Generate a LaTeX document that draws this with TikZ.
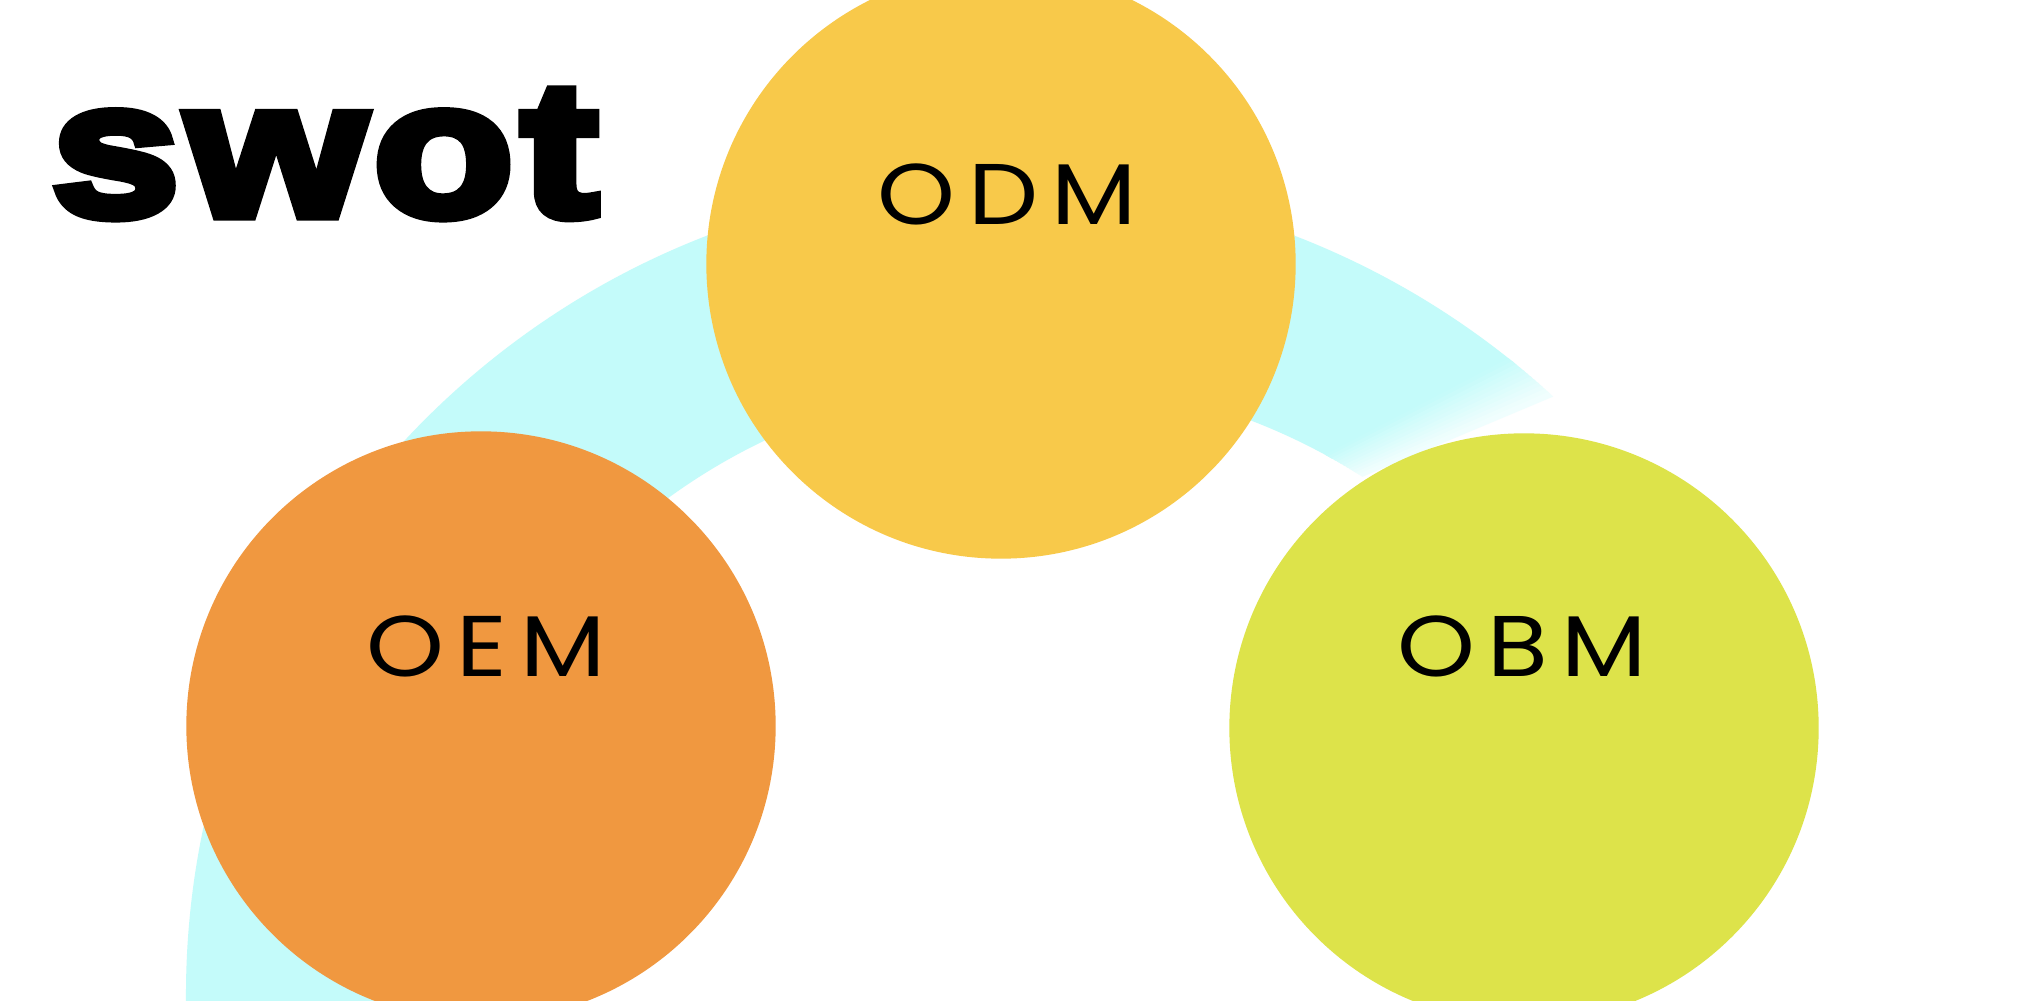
\documentclass[tikz,border=0pt]{standalone}
\usepackage{fontspec}
\usetikzlibrary{calc}
\newfontfamily\swotfont[FakeBold=6,FakeStretch=1.21,LetterSpace=4]{Liberation Sans Bold}
\newfontfamily\labfont[LetterSpace=15,FakeStretch=1.15]{Poppins}
\definecolor{bandcyan}{HTML}{C4FBFA}
\definecolor{odmyellow}{HTML}{F8C94A}
\definecolor{oemorange}{HTML}{F09840}
\definecolor{obmgreen}{HTML}{DDE34A}
\tikzset{
  disc/.style={circle, inner sep=0pt, minimum size=5.89cm},
  lab/.style={anchor=base, inner sep=0pt, text=black, font=\labfont\fontsize{24.5}{24.5}\selectfont},
  titletext/.style={anchor=base west, inner sep=0pt, text=black, font=\swotfont\fontsize{54}{54}\selectfont}
}
\begin{document}
\begin{tikzpicture}[x=0.01cm,y=-0.01cm]
\useasboundingbox (0,0) rectangle (2019,1001);
\fill[white] (0,0) rectangle (2019,1001);
\begin{scope}
\clip (0,0) rectangle (2019,1001);
\coordinate (co) at (1001,996);
\coordinate (ci) at (1031,996);
% cyan band
\fill[bandcyan] ($(co)+(176:815)$) arc[start angle=176,end angle=309.2,radius=815]
  -- ($(ci)+(299.2:616)$) arc[start angle=299.2,end angle=176,radius=616] -- cycle;
% fading end of the band
\foreach \i in {0,...,11}{
  \pgfmathsetmacro\oa{308.5+4*\i/12}
  \pgfmathsetmacro\ob{308.5+4*(\i+1)/12+0.15}
  \pgfmathsetmacro\ia{298.5+3.9*\i/12}
  \pgfmathsetmacro\ib{298.5+3.9*(\i+1)/12+0.15}
  \pgfmathtruncatemacro\pc{100-78*(\i+0.5)/12}
  \fill[bandcyan!\pc!white] ($(co)+(\oa:815)$) arc[start angle=\oa,end angle=\ob,radius=815]
    -- ($(ci)+(\ib:616)$) arc[start angle=\ib,end angle=\ia,radius=616] -- cycle;
}
% discs
\node[disc, fill=odmyellow] (odm) at (1001,264) {};
\node[disc, fill=oemorange] (oem) at (481,726) {};
\node[disc, fill=obmgreen] (obm) at (1524,728) {};
% labels
\node[lab] (odmt) at (1007,225) {ODM};
\node[lab] (oemt) at (486,677) {OEM};
\node[lab] (obmt) at (1522,677) {OBM};
% title
\node[titletext] (title) at (51,215) {swot};
\end{scope}
\end{tikzpicture}
\end{document}
